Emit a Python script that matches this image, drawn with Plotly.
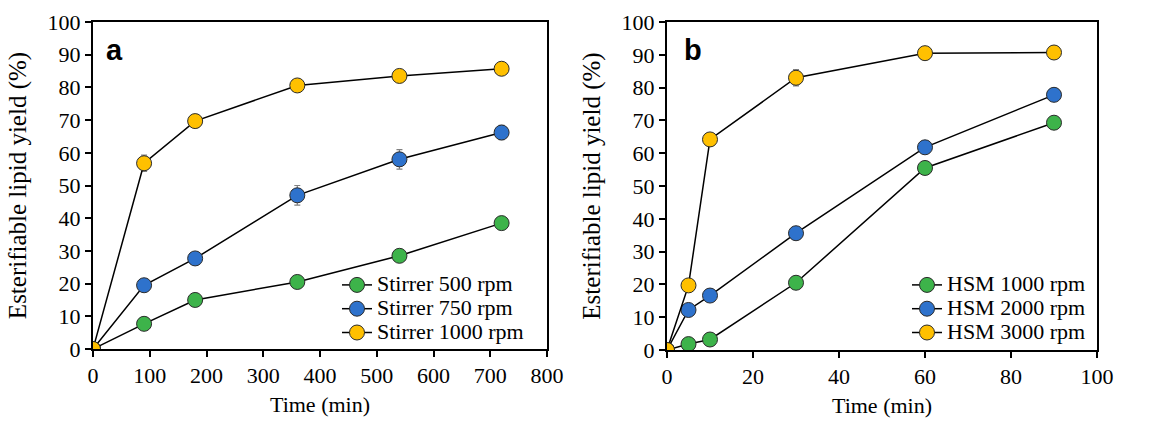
import plotly.graph_objects as go

# Panel a: stirrer
time_a = [0, 90, 180, 360, 540, 720]
stir_500 = [0, 7.7, 15.0, 20.5, 28.5, 38.5]
stir_750 = [0, 19.5, 27.7, 47.0, 58.0, 66.2]
stir_1000 = [0, 56.8, 69.7, 80.6, 83.5, 85.7]
err_500 = [0, 0.5, 0.5, 0.5, 0.5, 0.5]
err_750 = [0, 0.5, 0.5, 3.0, 3.0, 2.2]
err_1000 = [0, 2.5, 0.5, 0.5, 0.5, 0.5]

# Panel b: HSM
time_b = [0, 5, 10, 30, 60, 90]
hsm_1000 = [0, 1.8, 3.2, 20.5, 55.5, 69.3]
hsm_2000 = [0, 12.2, 16.6, 35.6, 61.8, 77.8]
hsm_3000 = [0, 19.7, 64.2, 83.0, 90.5, 90.7]
err_h1000 = [0, 0.3, 0.3, 0.5, 0.5, 0.5]
err_h2000 = [0, 0.5, 0.5, 0.5, 0.5, 0.5]
err_h3000 = [0, 0.5, 0.5, 2.5, 0.5, 0.5]

names_a = ["Stirrer 500 rpm", "Stirrer 750 rpm", "Stirrer 1000 rpm"]
names_b = ["HSM 1000 rpm", "HSM 2000 rpm", "HSM 3000 rpm"]
colors = ["#3DB34A", "#2E72CC", "#FFC000"]

FONT = "Liberation Serif, Times New Roman, serif"
LEG_TXT = 22


def leg_name(s):
    return '<span style="font-size:%dpx">%s</span>' % (LEG_TXT, s)


fig = go.Figure()

for name, ys, es, c in zip(names_a, [stir_500, stir_750, stir_1000], [err_500, err_750, err_1000], colors):
    fig.add_trace(go.Scatter(
        x=time_a, y=ys, name=leg_name(name), mode="lines+markers",
        line=dict(color="black", width=1.5),
        marker=dict(size=15, color=c, line=dict(color="#2b2b2b", width=1)),
        error_y=dict(type="data", array=es, visible=True, color="#808080", thickness=1.2, width=3),
        xaxis="x", yaxis="y", legend="legend"))

for name, ys, es, c in zip(names_b, [hsm_1000, hsm_2000, hsm_3000], [err_h1000, err_h2000, err_h3000], colors):
    fig.add_trace(go.Scatter(
        x=time_b, y=ys, name=leg_name(name), mode="lines+markers",
        line=dict(color="black", width=1.5),
        marker=dict(size=15, color=c, line=dict(color="#2b2b2b", width=1)),
        error_y=dict(type="data", array=es, visible=True, color="#808080", thickness=1.2, width=3),
        xaxis="x2", yaxis="y2", legend="legend2"))

W, H = 1153, 422


def px_x(p):
    return p / W


def px_y(p):
    return 1 - p / H


axis_common = dict(showgrid=False, zeroline=False, showline=True, linecolor="black", linewidth=2,
                   mirror=True, ticks="outside", ticklen=6, tickcolor="black", tickwidth=1.5,
                   automargin=False,
                   tickfont=dict(family=FONT, size=22, color="black"))
xtitle_font = dict(family=FONT, size=22, color="black")
ytitle_font = dict(family=FONT, size=25, color="black")

fig.update_layout(
    width=W, height=H, margin=dict(l=0, r=0, t=0, b=0, autoexpand=False),
    plot_bgcolor="white", paper_bgcolor="white",
    xaxis=dict(domain=[px_x(93), px_x(547)], range=[0, 800], dtick=100, anchor="y",
               title=dict(text="Time (min)", standoff=9, font=xtitle_font), **axis_common),
    yaxis=dict(domain=[px_y(349), px_y(22)], range=[0, 100], dtick=10, anchor="x",
               title=dict(text="Esterifiable lipid yield (%)", standoff=14, font=ytitle_font), **axis_common),
    xaxis2=dict(domain=[px_x(667), px_x(1097)], range=[0, 100], dtick=20, anchor="y2",
                title=dict(text="Time (min)", standoff=9, font=xtitle_font), **axis_common),
    yaxis2=dict(domain=[px_y(350), px_y(22)], range=[0, 100], dtick=10, anchor="x2",
                title=dict(text="Esterifiable lipid yield (%)", standoff=14, font=ytitle_font), **axis_common),
    legend=dict(x=px_x(337), y=px_y(268), xanchor="left", yanchor="top",
                font=dict(family=FONT, size=16, color="black"), bgcolor="rgba(0,0,0,0)",
                itemwidth=30, tracegroupgap=0),
    legend2=dict(x=px_x(907), y=px_y(268), xanchor="left", yanchor="top",
                 font=dict(family=FONT, size=16, color="black"), bgcolor="rgba(0,0,0,0)",
                 itemwidth=30, tracegroupgap=0),
    annotations=[
        dict(text="<b>a</b>", x=px_x(104), y=px_y(68), xref="paper", yref="paper",
             xanchor="left", yanchor="bottom", showarrow=False,
             font=dict(family="Liberation Sans", size=29, color="black")),
        dict(text="<b>b</b>", x=px_x(682), y=px_y(68), xref="paper", yref="paper",
             xanchor="left", yanchor="bottom", showarrow=False,
             font=dict(family="Liberation Sans", size=29, color="black")),
    ],
    showlegend=True,
)

fig.write_html("out.html", config={"displayModeBar": False},
               post_script="document.body.style.margin='0';document.body.style.overflow='hidden';")
